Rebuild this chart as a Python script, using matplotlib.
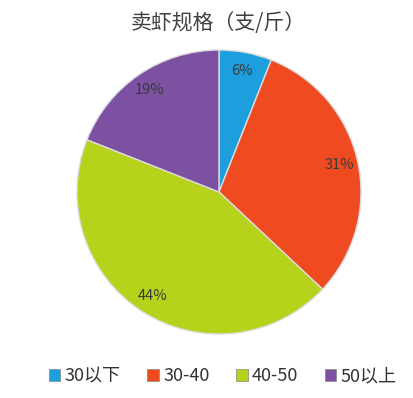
import matplotlib
matplotlib.use('Agg')
import matplotlib.pyplot as plt
from matplotlib.patches import Patch

plt.rcParams['font.family'] = ['Noto Sans CJK SC', 'DejaVu Sans']

labels = ['30以下', '30-40', '40-50', '50以上']
values = [6, 31, 44, 19]
colors = ['#1c9fdc', '#f04b20', '#b7d21a', '#7c51a1']

fig = plt.figure(figsize=(4.14, 3.98), dpi=100)
# pie centred at about (219, 192) px with radius about 142 px
ax = fig.add_axes([77 / 414, (398 - 334) / 398, 284 / 414, 284 / 398])

wedges, texts, autotexts = ax.pie(values, colors=colors, startangle=90, counterclock=False,
                                  autopct='%d%%', pctdistance=0.87,
                                  wedgeprops=dict(edgecolor='#dcdcdc', linewidth=1),
                                  textprops=dict(fontsize=10.5, color='#3a3a3a'))
ax.set_xlim(-1.0, 1.0)
ax.set_ylim(-1.0, 1.0)
for w in wedges:
    w.set_clip_on(False)

fig.text(0.528, 0.943, '卖虾规格（支/斤）', ha='center', va='center', fontsize=15, color='#404040')

handles = [Patch(facecolor=c, edgecolor='#888888', linewidth=0.5) for c in colors]
fig.legend(handles, labels, loc='center', bbox_to_anchor=(0.538, 0.055), ncol=4, frameon=False,
           fontsize=13, handlelength=0.65, handleheight=0.65, handletextpad=0.25, columnspacing=1.45,
           labelcolor='#333333')

fig.savefig('out.png', dpi=100, facecolor='white')
